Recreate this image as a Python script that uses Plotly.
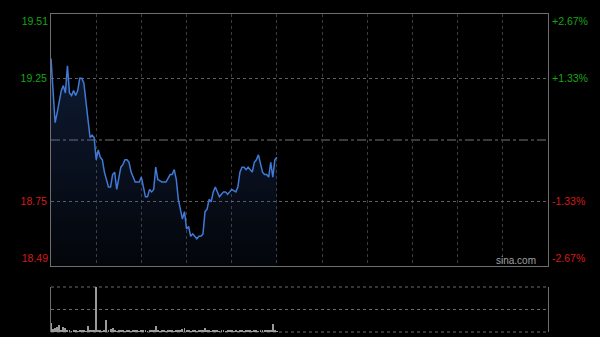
import plotly.graph_objects as go

# ---------------- data ----------------
prev_close = 19.00
minutes = [0, 2, 3, 5, 6, 7, 8, 9, 10, 11, 12, 13, 14, 15, 16, 17, 18, 19, 20, 21,
           22, 23, 24, 25, 26, 28, 29, 30, 31, 32, 34, 35, 36, 37, 38, 39, 41, 43, 44, 45,
           46, 47, 48, 49, 50, 51, 52, 54, 56, 58, 59, 60, 61, 62, 64, 65, 66, 67, 68, 69,
           70, 71, 72, 73, 74, 75, 76, 77, 78, 79, 80, 81, 82, 83, 84, 85, 86, 87, 88, 90,
           91, 92, 93, 94, 95, 96, 97, 98, 99, 100, 101, 102, 103, 104, 105, 106, 107, 108, 109, 110]
prices = [19.33, 19.07, 19.11, 19.20, 19.22, 19.19, 19.30, 19.19, 19.18, 19.20, 19.18, 19.20, 19.25, 19.25, 19.23, 19.16, 19.07, 19.01, 19.02, 19.01,
          18.92, 18.96, 18.93, 18.92, 18.87, 18.81, 18.81, 18.86, 18.87, 18.80, 18.89, 18.90, 18.92, 18.92, 18.91, 18.87, 18.83, 18.83, 18.85, 18.81,
          18.77, 18.77, 18.80, 18.79, 18.80, 18.89, 18.84, 18.83, 18.83, 18.86, 18.86, 18.88, 18.84, 18.76, 18.68, 18.71, 18.64, 18.65, 18.61, 18.62,
          18.61, 18.60, 18.61, 18.61, 18.62, 18.71, 18.72, 18.76, 18.75, 18.79, 18.81, 18.79, 18.77, 18.78, 18.79, 18.79, 18.78, 18.79, 18.80, 18.79,
          18.81, 18.87, 18.89, 18.89, 18.88, 18.89, 18.88, 18.87, 18.91, 18.92, 18.94, 18.91, 18.87, 18.86, 18.86, 18.85, 18.91, 18.85, 18.92, 18.93]

vol_minutes = list(range(0, 111))
volumes = [900, 300, 400, 500, 700, 200, 500, 400, 200, 180, 100, 200, 120, 100, 110, 130, 200, 100, 600, 120,
           200, 110, 4500, 200, 180, 100, 200, 1200, 200, 300, 400, 200, 100, 200, 110, 120, 100, 130, 200, 100,
           120, 110, 200, 100, 120, 200, 110, 100, 120, 150, 200, 600, 120, 100, 110, 150, 100, 120, 200, 110,
           100, 130, 120, 150, 300, 400, 200, 110, 100, 120, 130, 100, 110, 150, 200, 400, 200, 120, 100, 110,
           150, 120, 100, 110, 130, 100, 120, 150, 110, 100, 120, 100, 110, 130, 100, 120, 150, 110, 100, 120,
           130, 100, 110, 120, 150, 200, 180, 250, 800, 200, 100]

price_low, price_high = 18.49, 19.51
mid_ticks = [18.75, 19.25]
mid_labels = ["18.75", "19.25"]
mid_pct = ["-1.33%", "+1.33%"]
high_label, high_pct = "19.51", "+2.67%"
low_label, low_pct = "18.49", "-2.67%"
grid_minutes = [22, 44, 66, 88, 110, 132, 154, 176, 198, 220]
vol_max = 4500

GREEN = "#16a516"
RED = "#d41a1a"
FONT = "Liberation Sans, Arial, sans-serif"
BORDER = "#6e6e6e"

def colored(labels, values):
    out = []
    for t, v in zip(labels, values):
        c = GREEN if v > prev_close else RED
        out.append(f"<span style='color:{c}'>{t}</span>")
    return out

fig = go.Figure()

fig.add_trace(go.Scatter(
    x=minutes, y=prices, mode="lines",
    line=dict(color="#4079d6", width=1.5),
    fill="tozeroy",
    fillgradient=dict(type="vertical", start=price_low, stop=max(prices),
                      colorscale=[[0, "rgba(50,90,170,0.06)"], [1, "rgba(50,90,170,0.30)"]]),
    xaxis="x", yaxis="y", showlegend=False, hoverinfo="skip"))

# invisible companions so that the overlay label axes are drawn
for ax in ["y2", "y4", "y5", "y6", "y7"]:
    fig.add_trace(go.Scatter(x=[minutes[0]], y=[prices[0]], mode="markers",
                             marker=dict(opacity=0), xaxis="x", yaxis=ax,
                             showlegend=False, hoverinfo="skip"))

fig.add_trace(go.Bar(x=vol_minutes, y=volumes, width=0.45,
                     marker=dict(color="#9a9a9a", line=dict(width=0)),
                     xaxis="x2", yaxis="y3", showlegend=False, hoverinfo="skip"))

xdom = [51 / 600, 548 / 600]
ydom = [1 - 266 / 337, 1 - 14 / 337]

def label_axis(side, val, text, pos, standoff):
    return dict(overlaying="y", side=side, range=[price_low, price_high], automargin=False,
                tickvals=[val], ticktext=colored([text], [val]), ticks="",
                ticklabelstandoff=standoff, ticklabelposition=pos, showgrid=False,
                zeroline=False, showline=False, tickfont=dict(size=10.5))

fig.update_layout(
    width=600, height=337,
    margin=dict(l=0, r=0, t=0, b=0, autoexpand=False),
    paper_bgcolor="#000000", plot_bgcolor="#000000",
    font=dict(family=FONT, size=10),
    bargap=0,
    xaxis=dict(domain=xdom, range=[0, 242], tickvals=grid_minutes,
               showticklabels=False, ticks="", showgrid=True, automargin=False,
               gridcolor="#3c3c3c", griddash="dot", gridwidth=1,
               showline=True, linecolor=BORDER, linewidth=1, mirror=True,
               zeroline=False),
    yaxis=dict(domain=ydom, range=[price_low, price_high],
               tickvals=mid_ticks, ticktext=colored(mid_labels, mid_ticks),
               ticks="", ticklabelstandoff=1, automargin=False,
               showgrid=True, gridcolor="#5e5e5e", griddash="dot", gridwidth=1,
               showline=True, linecolor=BORDER, linewidth=1, mirror=True,
               zeroline=False, tickfont=dict(size=10.5)),
    yaxis2=dict(overlaying="y", side="right", range=[price_low, price_high], automargin=False,
                tickvals=mid_ticks, ticktext=colored(mid_pct, mid_ticks),
                ticks="", ticklabelstandoff=3, showgrid=False, zeroline=False,
                showline=False, tickfont=dict(size=10.5)),
    yaxis4=label_axis("left", price_high, high_label, "outside bottom", 2),
    yaxis5=label_axis("left", price_low, low_label, "outside top", 2),
    yaxis6=label_axis("right", price_high, high_pct, "outside bottom", 3),
    yaxis7=label_axis("right", price_low, low_pct, "outside top", 3),
    xaxis2=dict(domain=xdom, range=[0, 242], anchor="y3", showticklabels=False,
                ticks="", showgrid=False, zeroline=False, showline=False, automargin=False),
    yaxis3=dict(domain=[1 - 332 / 337, 1 - 287 / 337], range=[0, vol_max], anchor="x2",
                tickvals=[vol_max / 2], showticklabels=False, ticks="",
                showgrid=True, gridcolor="#6a6a6a", griddash="dot", gridwidth=1,
                showline=True, linecolor=BORDER, linewidth=1, mirror=True, zeroline=False,
                automargin=False),
    shapes=[dict(type="line", xref="x domain", x0=0, x1=1, yref="y",
                 y0=prev_close, y1=prev_close,
                 line=dict(color="#747474", width=1, dash="dashdot"), layer="below"),
            dict(type="line", xref="x2 domain", x0=0, x1=1, yref="y3 domain", y0=1, y1=1,
                 line=dict(color="#6a6a6a", width=1, dash="dot"), layer="below"),
            dict(type="line", xref="x2 domain", x0=0, x1=1, yref="y3 domain", y0=0, y1=0,
                 line=dict(color="#6a6a6a", width=1, dash="dot"), layer="below")],
    annotations=[dict(text="sina.com", xref="paper", yref="paper",
                      x=538 / 600, y=1 - 268 / 337, xanchor="right", yanchor="bottom",
                      showarrow=False, font=dict(color="#a0a0a0", size=10, family=FONT))],
)

fig.write_html("out.html")
